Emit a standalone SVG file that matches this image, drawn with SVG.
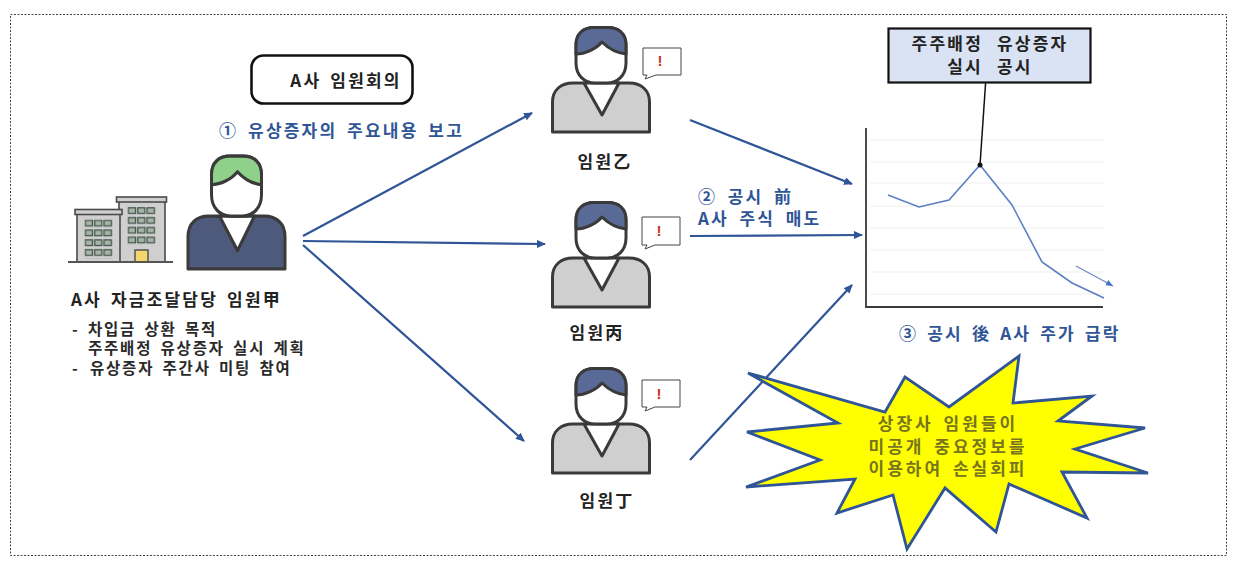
<svg xmlns="http://www.w3.org/2000/svg" width="1237" height="563" viewBox="0 0 1237 563">
<style>
text{font-family:"Noto Sans CJK KR","Liberation Sans",sans-serif;fill:#222;font-weight:700;font-size:17px;letter-spacing:2.2px;word-spacing:3px}
.m{text-anchor:middle}
.sm{font-size:15.5px;letter-spacing:1.8px;word-spacing:3px;fill:#2a2a2a}
.blue{fill:#2f5597}
.burstt{fill:#77741f;letter-spacing:3px;word-spacing:3px}
.wide{word-spacing:8px}
.conn{stroke:#2f5597;stroke-width:2.2;fill:none;marker-end:url(#arr)}
.out{stroke:#3a3a3a;stroke-width:3;stroke-linejoin:round}
.grid{stroke:#eeeeee;stroke-width:1}
.bub{fill:#fff;stroke:#444;stroke-width:1}
.ex{fill:#c8322d;font-size:15px;font-family:"Liberation Sans",sans-serif;letter-spacing:0}
.bld{fill:#cfcfcf;stroke:#4a4a4a;stroke-width:1.6}
</style>
<defs>
<marker id="arr" markerWidth="10" markerHeight="10" refX="8" refY="4" orient="auto" markerUnits="userSpaceOnUse"><path d="M0 0L9 4L0 8Z" fill="#2f5597"/></marker>
<marker id="arr2" markerWidth="8" markerHeight="8" refX="7" refY="3" orient="auto" markerUnits="userSpaceOnUse"><path d="M0 0L7 3L0 6Z" fill="#4472c4"/></marker>
<pattern id="win" width="9.4" height="9.8" patternUnits="userSpaceOnUse"><rect x="0.8" y="0.8" width="7.2" height="5.6" fill="#a6b5a6" stroke="#47584f" stroke-width="1.3"/></pattern>
<path id="body" d="M1.500 106V76C1.500 64 10 57 22 57H78C90 57 98.500 64 98.500 76V106Z"/>
<path id="neck" d="M33 57L51 89L68 57Z" fill="#fff"/>
<path id="head" d="M25 19C25 7 33 1.500 43 1.500H57C67 1.500 75 7 75 19V37C75 50 66 57 56 57H44C34 57 25 50 25 37Z" fill="#fff"/>
<path id="hair" d="M25 28V19C25 7 33 1.500 43 1.500H57C67 1.500 75 7 75 19V28C66 27 57 22 51 16C45 23 34 28 25 28Z"/>
</defs>
<rect x="10.500" y="14.500" width="1216" height="541" fill="#fff" stroke="#444" stroke-width="1" stroke-dasharray="2 1.500"/>

<g id="connectors">
<line class="conn" x1="303" y1="236" x2="532" y2="113"/>
<line class="conn" x1="303" y1="241" x2="545" y2="244"/>
<line class="conn" x1="303" y1="245" x2="524" y2="441"/>
<line class="conn" x1="690" y1="120" x2="852" y2="184"/>
<line class="conn" x1="690" y1="236" x2="862" y2="235"/>
<line class="conn" x1="690" y1="460" x2="852" y2="285"/>
</g>

<g id="building">
<rect class="bld" x="119" y="200" width="46" height="62"/>
<rect class="bld" x="116.500" y="197" width="50" height="5"/>
<rect class="bld" x="77" y="212" width="43" height="50"/>
<rect class="bld" x="75" y="209.500" width="47" height="5"/>
<rect transform="translate(84.500 219.500)" width="28" height="39" fill="url(#win)"/>
<rect transform="translate(127.500 207)" width="28" height="39" fill="url(#win)"/>
<rect x="135" y="250" width="13" height="12" fill="#f5d76e" stroke="#4a4a4a" stroke-width="1.400"/>
<line x1="68" y1="262" x2="173" y2="262" stroke="#555" stroke-width="2"/>
</g>

<g id="person-gap">
<g transform="translate(186.500 154.500) scale(1 1.08)" class="out">
<use href="#body" fill="#4d5a7c"/><use href="#neck"/><use href="#head"/><use href="#hair" fill="#8fd08a"/>
</g>
<text x="71" y="306">A사 자금조달담당 임원甲</text>
<text class="sm"><tspan x="72" y="335">- </tspan><tspan x="88" y="335">차입금 상환 목적</tspan><tspan x="88" y="354">주주배정 유상증자 실시 계획</tspan><tspan x="72" y="374">- </tspan><tspan x="90" y="374">유상증자 주간사 미팅 참여</tspan></text>
</g>

<g id="meeting">
<rect x="251.500" y="55.500" width="161" height="48" rx="12" fill="#fff" stroke="#111" stroke-width="2.600"/>
<text class="m" x="346" y="87">A사 임원회의</text>
</g>
<text id="step1" class="blue" x="219" y="137" style="word-spacing:3.800px">① 유상증자의 주요내용 보고</text>

<g id="person-b">
<g transform="translate(551 26)" class="out"><use href="#body" fill="#cfcfcf"/><use href="#neck"/><use href="#head"/><use href="#hair" fill="#5a6a96"/></g>
<path class="bub" d="M643 48H681V75H656L645 79L647 75H643Z"/><text class="ex m" x="660" y="66">!</text>
<text class="m" x="605" y="168">임원乙</text>
</g>
<g id="person-c">
<g transform="translate(551 201)" class="out"><use href="#body" fill="#cfcfcf"/><use href="#neck"/><use href="#head"/><use href="#hair" fill="#5a6a96"/></g>
<path class="bub" d="M642 217H680V245H655L645 249L647 245H642Z"/><text class="ex m" x="659" y="236">!</text>
<text class="m" x="597" y="339">임원丙</text>
</g>
<g id="person-d">
<g transform="translate(551 367)" class="out"><use href="#body" fill="#cfcfcf"/><use href="#neck"/><use href="#head"/><use href="#hair" fill="#5a6a96"/></g>
<path class="bub" d="M642 380H680V407H655L645 411L647 407H642Z"/><text class="ex m" x="659" y="399">!</text>
<text class="m" x="607" y="507">임원丁</text>
</g>
<text id="step2" class="blue" style="word-spacing:4.500px"><tspan x="698" y="203">② 공시 前</tspan><tspan x="698" y="225">A사 주식 매도</tspan></text>

<g id="chart">
<path class="grid" d="M870 140H1104M870 162H1104M870 183H1104M870 206H1104M870 228H1104M870 250H1104M870 272H1104M870 294H1104"/>
<path d="M866 128V307H1103" fill="none" stroke="#3a3a3a" stroke-width="1.800"/>
<polyline points="888,195 919,207 949,200 980,165 1012,205 1042,262 1072,283 1104,298" fill="none" stroke="#5b7fbf" stroke-width="1.600"/>
<line x1="1076" y1="266" x2="1113" y2="286" stroke="#6f8cc4" stroke-width="1.300" marker-end="url(#arr2)"/>
<line x1="986" y1="77" x2="980" y2="165" stroke="#111" stroke-width="1.500"/>
<circle cx="980" cy="165" r="2.500" fill="#111"/>
</g>
<g id="callout">
<rect x="888.500" y="28.500" width="202" height="54" fill="#dae3f3" stroke="#111" stroke-width="2.200"/>
<text class="m wide"><tspan x="990" y="50">주주배정 유상증자</tspan><tspan x="990" y="73">실시 공시</tspan></text>
</g>
<text id="step3" class="blue" x="899" y="340">③ 공시 後 A사 주가 급락</text>

<g id="burst">
<polygon points="748,373 885,412 905,377 949,407 1019,356 1013,403 1092,396 1058,421 1145,428 1075,449 1148,473 1062,472 1087,518 1009,484 996,532 945,488 907,549 893,495 837,513 855,479 746,487 820,460 747,432 838,423" fill="#ffff00" stroke="#2f5597" stroke-width="2.800" stroke-linejoin="miter"/>
<text class="m burstt"><tspan x="948" y="430">상장사 임원들이</tspan><tspan x="948" y="453">미공개 중요정보를</tspan><tspan x="948" y="475">이용하여 손실회피</tspan></text>
</g>
</svg>
